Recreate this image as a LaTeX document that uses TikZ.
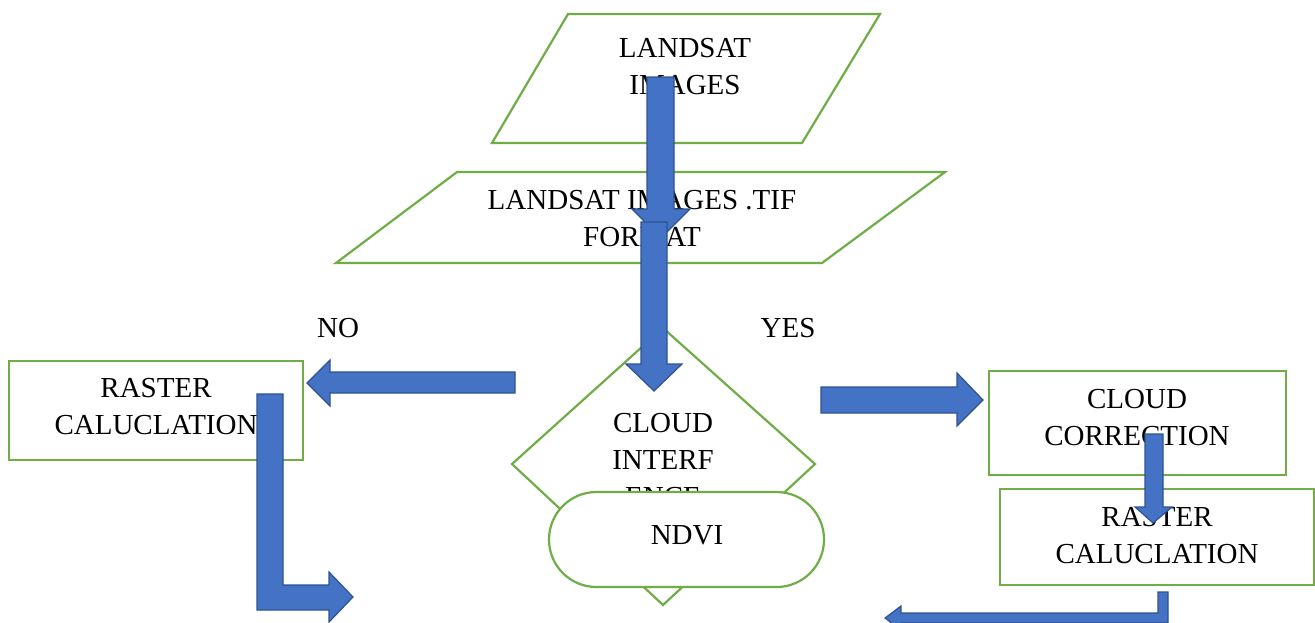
\documentclass[tikz,border=0pt]{standalone}
\usepackage{fontspec}
\setmainfont{Liberation Serif}
\definecolor{boxgreen}{HTML}{70AD47}
\definecolor{arrowfill}{HTML}{4472C4}
\definecolor{arrowline}{HTML}{2F528F}
\tikzset{
  shapeline/.style={draw=boxgreen, line width=1.1pt, fill=white},
  blockarrow/.style={fill=arrowfill, draw=arrowline, line width=0.6pt, line join=miter},
  lbl/.style={inner sep=0pt, align=center, font=\fontsize{14.5}{18.5}\selectfont, text=black},
}
\begin{document}
\begin{tikzpicture}[x=0.5pt, y=-0.5pt]
\useasboundingbox (0,0) rectangle (1315,622);
\clip (0,0) rectangle (1315,622);

% input parallelograms
\draw[shapeline] (568,14) -- (880,14) -- (802,143) -- (492,143) -- cycle;
\node[lbl] (landsat) at (685,66.5) {LANDSAT\\IMAGES};
\draw[shapeline] (457,172) -- (945,172) -- (822,263) -- (336,263) -- cycle;
\node[lbl] (tif) at (642,218.5) {LANDSAT IMAGES .TIF\\FORMAT};

% arrow 1
\draw[blockarrow] (647,77) -- (674,77) -- (674,209) -- (690,209) -- (661,238) -- (632,209) -- (647,209) -- cycle;

% decision diamond
\draw[shapeline] (663,328) -- (815,464) -- (663,605) -- (512,464) -- cycle;
\node[lbl] (cloudint) at (663,460) {CLOUD\\INTERF\\ENCE};

% arrow 2
\draw[blockarrow] (641,222) -- (667,222) -- (667,364) -- (682,364) -- (654,391) -- (626,364) -- (641,364) -- cycle;

% NDVI terminator
\draw[shapeline, rounded corners=23.7pt] (549,492) -- (824,492) -- (824,587) -- (549,587) -- cycle;
\node[lbl] (ndvi) at (687,535) {NDVI};

% labels
\node[lbl] (no) at (338,328) {NO};
\node[lbl] (yes) at (788,328) {YES};

% left box
\draw[shapeline] (9,361) rectangle (303,460);
\node[lbl] (rasterL) at (156,407) {RASTER\\CALUCLATION};

% NO arrow
\draw[blockarrow] (515,372) -- (515,393) -- (330,393) -- (330,406) -- (307,383) -- (330,360) -- (330,372) -- cycle;

% left bent arrow
\draw[blockarrow] (257,394) -- (283,394) -- (283,585) -- (329,585) -- (329,572) -- (353,597) -- (329,622) -- (329,610) -- (257,610) -- cycle;

% YES arrow
\draw[blockarrow] (821,387) -- (957,387) -- (957,373) -- (983,400) -- (957,426) -- (957,413) -- (821,413) -- cycle;

% right boxes
\draw[shapeline] (989,371) rectangle (1286,475);
\node[lbl] (cloudcor) at (1137,417.5) {CLOUD\\CORRECTION};
\draw[shapeline] (1000,489) rectangle (1314,585);
\node[lbl] (rasterR) at (1157,536) {RASTER\\CALUCLATION};

% small down arrow
\draw[blockarrow] (1145,434) -- (1163,434) -- (1163,507) -- (1172,507) -- (1153,523) -- (1135,507) -- (1145,507) -- cycle;

% bottom right bent arrow
\draw[blockarrow] (1158,592) -- (1168,592) -- (1168,623) -- (901,623) -- (901,630) -- (885,618) -- (901,606) -- (901,613) -- (1158,613) -- cycle;
\end{tikzpicture}
\end{document}
